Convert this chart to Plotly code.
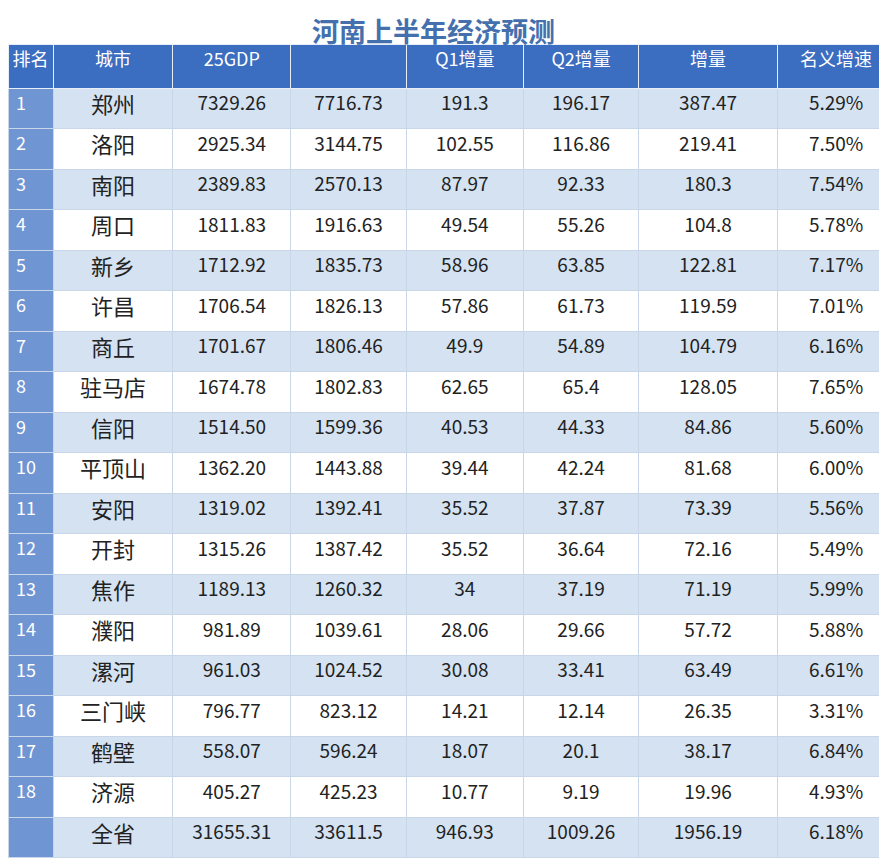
import plotly.graph_objects as go

title = "河南上半年经济预测"
headers = ["排名", "城市", "25GDP", "", "Q1增量", "Q2增量", "增量", "名义增速"]
rank = [str(i) for i in range(1, 19)] + [""]
cities = ["郑州","洛阳","南阳","周口","新乡","许昌","商丘","驻马店","信阳","平顶山","安阳","开封","焦作","濮阳","漯河","三门峡","鹤壁","济源","全省"]
gdp25 = ["7329.26","2925.34","2389.83","1811.83","1712.92","1706.54","1701.67","1674.78","1514.50","1362.20","1319.02","1315.26","1189.13","981.89","961.03","796.77","558.07","405.27","31655.31"]
col4 = ["7716.73","3144.75","2570.13","1916.63","1835.73","1826.13","1806.46","1802.83","1599.36","1443.88","1392.41","1387.42","1260.32","1039.61","1024.52","823.12","596.24","425.23","33611.5"]
q1 = ["191.3","102.55","87.97","49.54","58.96","57.86","49.9","62.65","40.53","39.44","35.52","35.52","34","28.06","30.08","14.21","18.07","10.77","946.93"]
q2 = ["196.17","116.86","92.33","55.26","63.85","61.73","54.89","65.4","44.33","42.24","37.87","36.64","37.19","29.66","33.41","12.14","20.1","9.19","1009.26"]
inc = ["387.47","219.41","180.3","104.8","122.81","119.59","104.79","128.05","84.86","81.68","73.39","72.16","71.19","57.72","63.49","26.35","38.17","19.96","1956.19"]
rate = ["5.29%","7.50%","7.54%","5.78%","7.17%","7.01%","6.16%","7.65%","5.60%","6.00%","5.56%","5.49%","5.99%","5.88%","6.61%","3.31%","6.84%","4.93%","6.18%"]

n = len(cities)
stripe = ["#d5e2f2" if i % 2 == 0 else "#ffffff" for i in range(n)]
rankfill = ["#6f95d3"] * n
fills = [rankfill] + [stripe] * 7
fcolors = [["#ffffff"] * n] + [["#222222"] * n] * 7
fsizes = [18, 22, 19, 19, 19, 19, 19, 19]

W, H = 887, 863
colw = [44, 117, 115, 113, 114, 113, 135, 115]

fig = go.Figure(go.Table(
    columnwidth=colw,
    domain=dict(x=[0, 1.0], y=[0, 1 - 36 / H]),
    header=dict(values=headers, fill_color="#3b6dc0", height=44,
                font=dict(color="white", size=18, family="Noto Sans CJK SC"),
                align="center", line=dict(color="#e8eef7", width=1)),
    cells=dict(values=[rank, cities, gdp25, col4, q1, q2, inc, rate],
               fill_color=fills, height=40.5,
               font=dict(color=fcolors, size=fsizes, family="Noto Sans CJK SC"),
               align=["left", "center", "center", "center", "center", "center", "center", "center"],
               line=dict(color="#c9d6e8", width=1)),
))
fig.add_annotation(text="<b>" + title + "</b>", x=0.48, y=1, xref="paper", yref="paper",
                   yanchor="top", showarrow=False, yshift=-1,
                   font=dict(size=27, color="#4470ad", family="Noto Sans CJK SC"))
fig.update_layout(width=W, height=H, margin=dict(l=0, r=0, t=0, b=0),
                  paper_bgcolor="white")
fig.write_html("out.html")
